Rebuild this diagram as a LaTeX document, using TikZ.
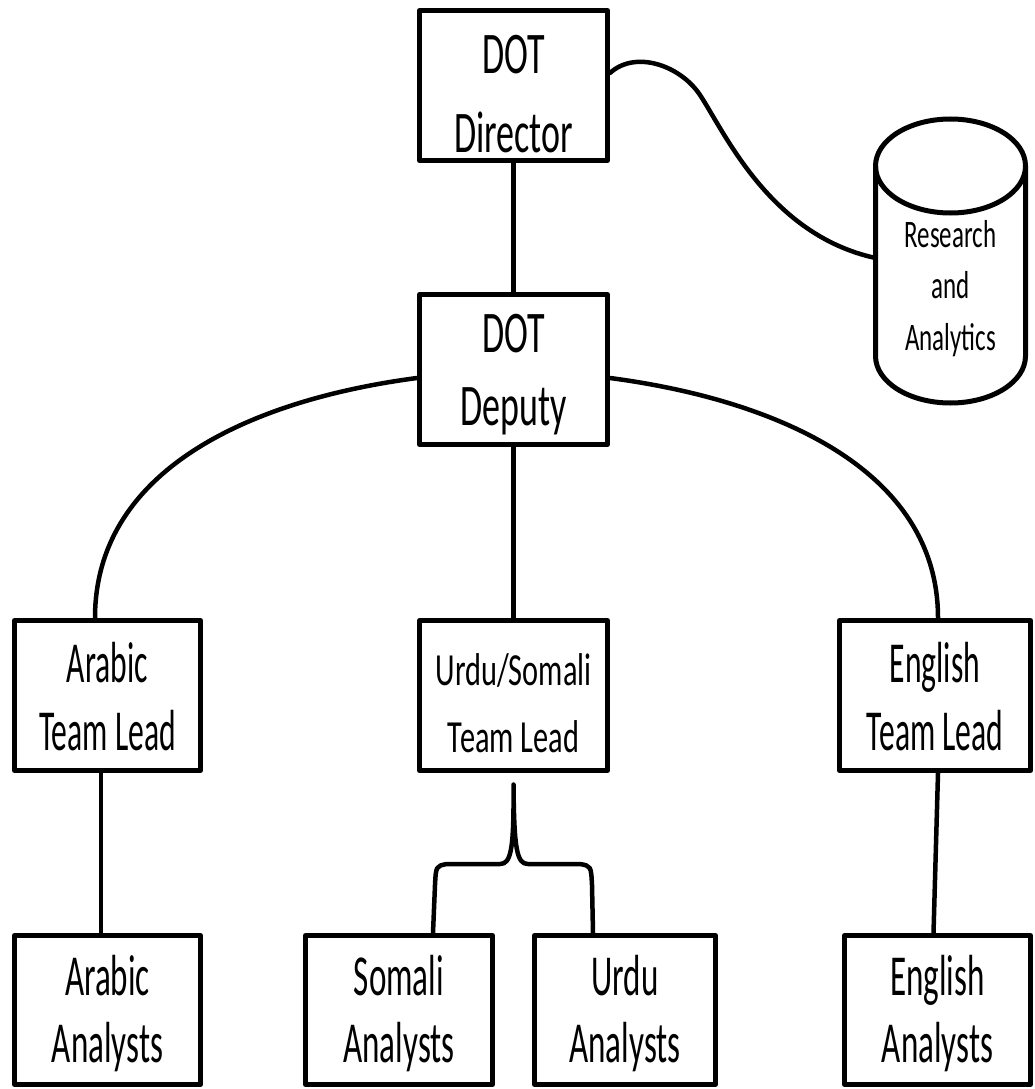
\documentclass[tikz,border=0pt]{standalone}
\usepackage{fontspec}
\setmainfont{Carlito}
\newfontfamily\fdot[FakeStretch=0.61]{Carlito}
\newfontfamily\flead[FakeStretch=0.545]{Carlito}
\newfontfamily\fana[FakeStretch=0.57]{Carlito}
\newfontfamily\furdu[FakeStretch=0.66]{Carlito}
\newfontfamily\fcyl[FakeStretch=0.64]{Carlito}
\usetikzlibrary{calc}
\newcommand\twol[2]{\vbox{\hbox to 0pt{\hss#1\hss}\hbox to 0pt{\hss#2\hss}}}
\newcommand\threel[3]{\vbox{\hbox to 0pt{\hss#1\hss}\hbox to 0pt{\hss#2\hss}\hbox to 0pt{\hss#3\hss}}}
\tikzset{
  orgbox/.style={draw, line width=5pt, line join=round, inner sep=0pt,
    minimum width=188pt, minimum height=150pt, text depth=0pt},
  dotbox/.style={orgbox, font=\fdot\fontsize{59}{79}\selectfont},
  leadbox/.style={orgbox, text height=109pt, font=\flead\fontsize{58}{68}\selectfont},
  anabox/.style={orgbox, minimum height=149pt, text height=105pt, font=\fana\fontsize{58}{67}\selectfont},
  conn/.style={draw, line width=4.5pt, line join=round, line cap=round},
  cylline/.style={draw, line width=5pt},
}
\begin{document}
\begin{tikzpicture}[x=1pt, y=-1pt]
\fill[white] (0,0) rectangle (1034,1089);
\useasboundingbox (0,0) rectangle (1034,1089);

% boxes
\node[dotbox, text height=135pt] (dir) at (513.5,85.5) {\twol{DOT}{Director}};
\node[dotbox, text height=111pt, font=\fdot\fontsize{59}{73}\selectfont] (dep) at (513.5,369.5) {\twol{DOT}{Deputy}};
\node[leadbox, minimum width=186pt] (arl) at (107.5,695.5) {\twol{Arabic}{Team Lead}};
\node[orgbox, text height=113pt, font=\furdu\fontsize{46}{67}\selectfont] (url) at (513.5,695.5) {\twol{Urdu/Somali}{Team Lead}};
\node[leadbox, minimum width=191pt] (enl) at (935,695.5) {\twol{English}{Team Lead}};
\node[anabox, minimum width=186pt] (ara) at (107.5,1010) {\twol{Arabic}{Analysts}};
\node[anabox, minimum width=187pt] (soa) at (399,1010) {\twol{Somali}{Analysts}};
\node[anabox, minimum width=181pt] (uda) at (625,1010) {\twol{Urdu}{Analysts}};
\node[anabox, minimum width=186pt] (ena) at (937.5,1010) {\twol{English}{Analysts}};

% cylinder
\draw[cylline] (950.5,166) ellipse [x radius=75, y radius=47];
\draw[cylline] (875.5,166) -- (875.5,356) arc[start angle=180, end angle=0, x radius=75, y radius=47] -- (1025.5,166);
\node[inner sep=0pt, text height=128pt, text depth=0pt, font=\fcyl\fontsize{39}{51.5}\selectfont] (cyl) at (950.5,286) {\threel{Research}{and}{Analytics}};
\coordinate (cylw) at (875.5,258);

% connectors
\draw[conn] (dir) -- (dep);
\draw[conn] ($(dir.east)+(0,-12.5)$) .. controls (635,50) and (680,65) .. (700,95)
  .. controls (725,133) and (770,235) .. (cylw);
\draw[conn] ($(dep.west)+(0,8.5)$) .. controls (250,400) and (95,470) .. ($(arl.north)+(-12.5,0)$);
\draw[conn] ($(dep.east)+(0,8.5)$) .. controls (777,400) and (938,470) .. ($(enl.north)+(3,0)$);
\draw[conn] (dep) -- (url);
\draw[conn] ($(arl.south)+(-6.5,0)$) -- ($(ara.north)+(-6.5,0)$);
\draw[conn] ($(enl.south)+(3,0)$) -- ($(ena.north)+(-4,0)$);
\coordinate (stem) at ($(url.south)+(0,11.5)$);
\draw[conn] ($(soa.north)+(34,0)$) -- (435,885) .. controls (436,866) .. (447,864) -- (500,864)
  .. controls (511,864) and (514,850) .. (stem)
  .. controls (514,850) and (517,864) .. (528,864) -- (580,864)
  .. controls (591,866) .. (592,885) -- ($(uda.north)+(-32,0)$);
\end{tikzpicture}
\end{document}
